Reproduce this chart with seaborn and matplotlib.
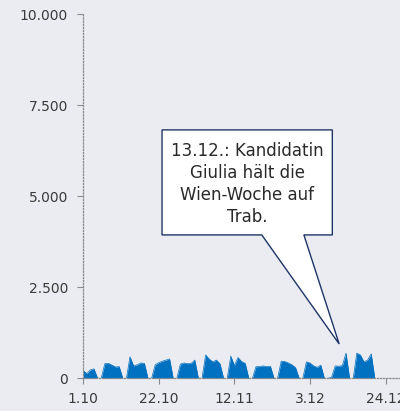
import pandas as pd
import seaborn as sns
import matplotlib.pyplot as plt
import matplotlib.dates as mdates
from matplotlib.patches import Polygon

# daily values, 1.10.2019 - 21.12.2019 (weekends = 0)
start_date = "2019-10-01"
values = [
    210, 130, 230, 260, 0, 0,
    400, 410, 360, 310, 320, 0, 0,
    590, 340, 370, 420, 410, 0, 0,
    370, 430, 470, 500, 530, 0, 0,
    390, 420, 400, 410, 500, 0, 0,
    640, 530, 450, 500, 400, 0, 0,
    610, 350, 570, 460, 410, 0, 0,
    320, 320, 340, 320, 330, 0, 0,
    470, 460, 420, 370, 290, 0, 0,
    450, 420, 340, 300, 360, 0, 0,
    30, 340, 330, 350, 690, 0, 0,
    690, 640, 450, 500, 670, 0,
]
dates = pd.date_range(start_date, periods=len(values), freq="D")
df = pd.DataFrame({"Datum": dates, "Wert": values})

xtick_dates = ["2019-10-01", "2019-10-22", "2019-11-12", "2019-12-03", "2019-12-24"]
xtick_labels = ["1.10", "22.10", "12.11", "3.12", "24.12"]
ytick_values = [0, 2500, 5000, 7500, 10000]
ytick_labels = ["0", "2.500", "5.000", "7.500", "10.000"]

callout_text = "13.12.: Kandidatin\nGiulia hält die\nWien-Woche auf\nTrab."

bg = "#EAECF1"
blue = "#0070C0"
navy = "#1F3466"

sns.set_theme(style="white", rc={"axes.facecolor": bg, "figure.facecolor": bg})
plt.rcParams["font.family"] = ["DejaVu Sans"]

fig = plt.figure(figsize=(4, 4.11), dpi=100)
ax = fig.add_axes([0.208, 0.0796, 0.792, 0.886])

sns.lineplot(data=df, x="Datum", y="Wert", ax=ax, color=blue, linewidth=0.5)
ax.fill_between(df["Datum"], df["Wert"], 0, color=blue, linewidth=0)

x0 = mdates.date2num(pd.Timestamp(start_date))
ax.set_xlim(x0, x0 + 88)
ax.set_ylim(0, 10000)

ax.set_xticks([mdates.date2num(pd.Timestamp(d)) for d in xtick_dates])
ax.set_xticklabels(xtick_labels)
ax.set_yticks(ytick_values)
ax.set_yticklabels(ytick_labels)
ax.set_xlabel("")
ax.set_ylabel("")

ax.tick_params(axis="both", bottom=True, left=True, labelsize=10,
               labelcolor="#3a3a3a", color="#8a8a8a", length=4, width=0.8)
ax.tick_params(axis="y", pad=7)
ax.tick_params(axis="x", pad=6)

for side in ["top", "right"]:
    ax.spines[side].set_visible(False)
for side in ["left", "bottom"]:
    ax.spines[side].set_color("#8a8a8a")
    ax.spines[side].set_linestyle((0, (1, 1.5)))
    ax.spines[side].set_linewidth(0.9)

# speech-bubble callout
def px(day, val):
    return (x0 + day, val)

bubble = Polygon(
    [px(21.9, 6821), px(69.2, 6821), px(69.2, 3937), px(61.3, 3937),
     px(71.1, 942), px(49.6, 3937), px(21.9, 3937)],
    closed=True, facecolor="white", edgecolor=navy, linewidth=1.0, zorder=5,
)
ax.add_patch(bubble)
ax.text(x0 + 45.55, 5330, callout_text, ha="center", va="center",
        fontsize=12, color="#2a2a2a", linespacing=1.3, zorder=6)

plt.savefig("out.png", dpi=100)
